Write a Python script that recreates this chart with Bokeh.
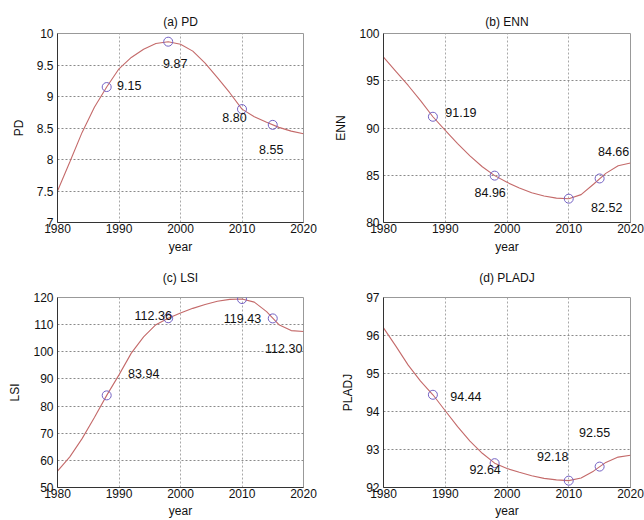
from bokeh.plotting import figure
from bokeh.layouts import column, row
from bokeh.models import FixedTicker, Range1d, ColumnDataSource, LabelSet, Title
from bokeh.core.properties import value
from bokeh.embed import file_html
from bokeh.resources import INLINE

# ---- data ----
years = [1988, 1998, 2010, 2015]
pd_vals = [9.15, 9.87, 8.80, 8.55]
enn_vals = [91.19, 84.96, 82.52, 84.66]
lsi_vals = [83.94, 112.36, 119.43, 112.30]
pladj_vals = [94.44, 92.64, 92.18, 92.55]

curve_years = [1980, 1982, 1984, 1986, 1988, 1990, 1992, 1994, 1996, 1998, 2000,
               2002, 2004, 2006, 2008, 2010, 2012, 2014, 2016, 2018, 2020]
pd_curve = [7.50, 7.96, 8.43, 8.83, 9.15, 9.44, 9.62, 9.75, 9.84, 9.87, 9.83,
            9.72, 9.53, 9.30, 9.06, 8.80, 8.68, 8.59, 8.51, 8.45, 8.41]
enn_curve = [97.5, 96.0, 94.5, 92.9, 91.19, 89.75, 88.35, 87.05, 85.9, 84.96, 84.25,
             83.65, 83.15, 82.8, 82.58, 82.52, 82.95, 84.05, 85.2, 86.0, 86.3]
lsi_curve = [56.0, 61.3, 68.0, 75.8, 83.94, 91.5, 99.5, 105.5, 110.0, 112.36, 114.3,
             116.0, 117.4, 118.6, 119.3, 119.43, 118.3, 114.8, 110.0, 107.8, 107.5]
pladj_curve = [96.2, 95.72, 95.22, 94.8, 94.44, 94.02, 93.6, 93.22, 92.9, 92.64, 92.5,
               92.4, 92.31, 92.24, 92.2, 92.18, 92.25, 92.43, 92.66, 92.8, 92.85]

x_ticks = [1980, 1990, 2000, 2010, 2020]
pd_ticks = [7, 7.5, 8, 8.5, 9, 9.5, 10]
pd_tick_labels = ["7", "7.5", "8", "8.5", "9", "9.5", "10"]
enn_ticks = [80, 85, 90, 95, 100]
enn_tick_labels = ["80", "85", "90", "95", "100"]
lsi_ticks = [50, 60, 70, 80, 90, 100, 110, 120]
lsi_tick_labels = ["50", "60", "70", "80", "90", "100", "110", "120"]
pladj_ticks = [92, 93, 94, 95, 96, 97]
pladj_tick_labels = ["92", "93", "94", "95", "96", "97"]

# ---- label placement (pixel offsets: right, down; layout only) ----
pd_offs = ([22.5, 7, -7.5, -1.5], [-2, 22, 8, 25])
enn_offs = ([28, -4.5, 38, 14], [-4, 17, 9, -27])
lsi_offs = ([37, -15, 0.5, 11], [-22, -3, 19, 30])
pladj_offs = ([33, -9.5, -16, -5], [2, 6, -24, -34])

FONT = "Liberation Sans"
LINE_C = "#c46a6a"
MARK_C = "#7462c4"


def panel(title, ylabel, yrange, yticks, ylabels, curve, vals, offs,
          width, height, left, right, top, bottom, spacer, xlab_standoff):
    p = figure(width=width, height=height, title=None,
               x_range=Range1d(1980, 2020), y_range=Range1d(*yrange),
               output_backend="svg", toolbar_location=None,
               min_border_left=left, min_border_right=right,
               min_border_top=top, min_border_bottom=bottom)
    if spacer:
        p.add_layout(Title(text=" ", text_font_size="%dpx" % spacer, standoff=0), "above")
    p.add_layout(Title(text=title, align="center", text_font=FONT, text_font_size="12px",
                       text_font_style="normal", text_color="#111111"), "above")
    p.xaxis.ticker = FixedTicker(ticks=x_ticks)
    p.yaxis.ticker = FixedTicker(ticks=yticks)
    p.yaxis.major_label_overrides = {float(t): l for t, l in zip(yticks, ylabels)}
    p.xaxis.axis_label = "year"
    p.yaxis.axis_label = ylabel
    for ax in (p.xaxis, p.yaxis):
        ax.axis_label_text_font = FONT
        ax.axis_label_text_font_size = "12px"
        ax.axis_label_text_font_style = "normal"
        ax.axis_label_text_color = "#111111"
        ax.major_label_text_font = FONT
        ax.major_label_text_font_size = "12px"
        ax.major_label_text_color = "#111111"
        ax.major_tick_line_color = None
        ax.minor_tick_line_color = None
        ax.major_tick_out = 0
        ax.major_tick_in = 0
        ax.minor_tick_out = 0
        ax.minor_tick_in = 0
        ax.axis_line_color = "#333333"
    p.xaxis.major_label_standoff = 1
    p.xaxis.axis_label_standoff = xlab_standoff
    p.yaxis.major_label_standoff = 4
    p.yaxis.axis_label_standoff = 8
    p.xgrid.grid_line_color = "#a8a8a8"
    p.ygrid.grid_line_color = "#8a8a8a"
    p.grid.grid_line_dash = "2 2"
    p.outline_line_color = "#999999"
    p.background_fill_color = "white"
    p.border_fill_color = "white"

    p.line(curve_years, curve, line_color=LINE_C, line_width=1.1)
    p.scatter(years, vals, marker="circle", size=9, fill_color=None,
              line_color=MARK_C, line_width=1)
    src = ColumnDataSource(dict(x=years, y=vals, t=["%.2f" % v for v in vals],
                                dx=offs[0], dy=[-d for d in offs[1]]))
    labels = LabelSet(x="x", y="y", text="t", x_offset="dx", y_offset="dy", source=src,
                      text_align="center", text_baseline="middle",
                      text_font=value(FONT), text_font_size="12.5px", text_color="#111111")
    p.add_layout(labels)
    return p


pa = panel("(a) PD", "PD", (7, 10), pd_ticks, pd_tick_labels, pd_curve, pd_vals, pd_offs,
           322, 256, 57, 19, 33, 33, 0, 4)
pb = panel("(b) ENN", "ENN", (80, 100), enn_ticks, enn_tick_labels, enn_curve, enn_vals, enn_offs,
           322, 256, 61, 14, 33, 33, 0, 4)
pc = panel("(c) LSI", "LSI", (50, 120), lsi_ticks, lsi_tick_labels, lsi_curve, lsi_vals, lsi_offs,
           322, 264, 57, 19, 41, 32, 5, 3)
pdj = panel("(d) PLADJ", "PLADJ", (92, 97), pladj_ticks, pladj_tick_labels, pladj_curve, pladj_vals,
            pladj_offs, 322, 264, 61, 14, 41, 32, 5, 3)

layout = column(row(pa, pb), row(pc, pdj))
open("out.html", "w").write(file_html(layout, INLINE))
